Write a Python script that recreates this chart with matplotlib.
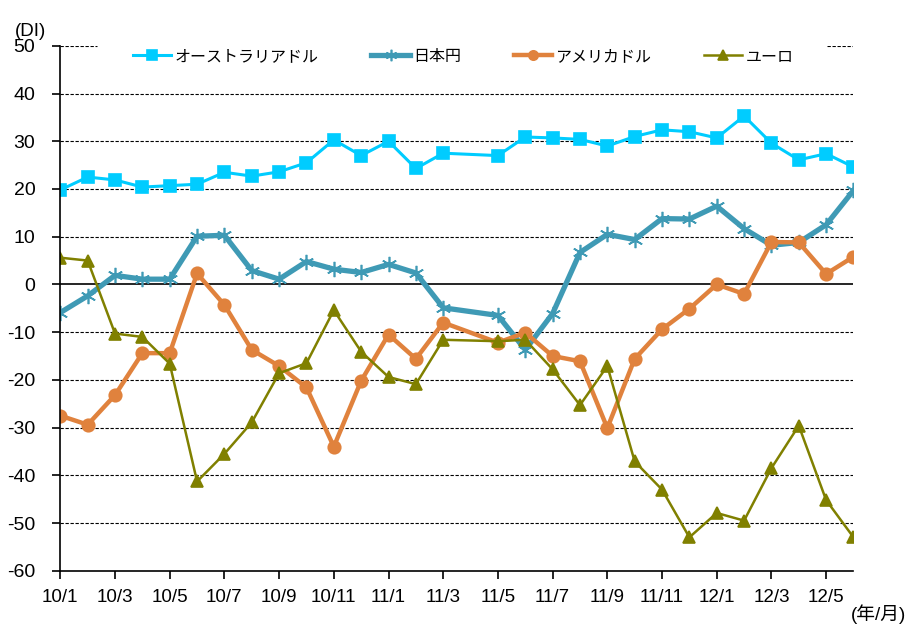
import numpy as np
import pandas as pd
import matplotlib
matplotlib.use('Agg')
import matplotlib.pyplot as plt

plt.rcParams['font.family'] = ['Liberation Sans', 'Noto Sans CJK JP', 'DejaVu Sans']
plt.rcParams['axes.unicode_minus'] = False

# months 10/1 .. 12/6 (11/4 has no survey value)
months = ['10/1', '10/2', '10/3', '10/4', '10/5', '10/6', '10/7', '10/8', '10/9', '10/10',
          '10/11', '10/12', '11/1', '11/2', '11/3', '11/4', '11/5', '11/6', '11/7', '11/8',
          '11/9', '11/10', '11/11', '11/12', '12/1', '12/2', '12/3', '12/4', '12/5', '12/6']

aud = [19.8, 22.5, 21.9, 20.4, 20.7, 21.0, 23.5, 22.7, 23.6, 25.5,
       30.3, 27.0, 30.0, 24.3, 27.5, None, 27.0, 30.9, 30.7, 30.4,
       29.0, 31.0, 32.4, 32.0, 30.7, 35.3, 29.6, 26.1, 27.4, 24.6]
jpy = [-5.9, -2.4, 1.9, 1.1, 1.1, 10.1, 10.3, 2.9, 1.1, 4.8,
       3.2, 2.5, 4.2, 2.4, -4.9, None, -6.5, -13.7, -6.1, 6.7,
       10.5, 9.4, 13.8, 13.7, 16.4, 11.7, 8.2, 8.8, 12.5, 19.7]
usd = [-27.5, -29.4, -23.2, -14.4, -14.4, 2.3, -4.3, -13.7, -17.1, -21.6,
       -34.0, -20.2, -10.5, -15.6, -8.0, None, -12.2, -10.1, -15.0, -16.1,
       -30.1, -15.6, -9.4, -5.1, 0.0, -2.0, 8.9, 8.8, 2.2, 5.8]
eur = [5.6, 5.0, -10.3, -11.0, -16.6, -41.3, -35.5, -28.9, -18.6, -16.5,
       -5.4, -14.1, -19.4, -20.9, -11.6, None, -11.9, -11.6, -17.8, -25.3,
       -17.1, -37.1, -43.0, -53.0, -47.9, -49.5, -38.5, -29.6, -45.2, -53.0]

series = [
    ('オーストラリアドル', aud, '#00CCFF', 2.2, 's', 9),
    ('日本円', jpy, '#3F9AB5', 3.8, (6, 2, 0), 11),
    ('アメリカドル', usd, '#E0823D', 3.2, 'o', 9),
    ('ユーロ', eur, '#808000', 1.8, '^', 9),
]

fig = plt.figure(figsize=(9.07, 6.28), dpi=100)
ax = fig.add_axes([0.0665, 0.0912, 0.8745, 0.8358])

x = np.arange(len(months))
for name, vals, col, lw, mk, ms in series:
    s = pd.Series(vals, index=x, dtype=float).dropna()
    ax.plot(s.index, s.values, color=col, lw=lw, marker=mk, ms=ms,
            mec=col, mfc=col, mew=1.2, label=name)

ax.set_ylim(-60, 50)
ax.set_xlim(0, len(months) - 1)
ax.set_yticks(range(-60, 51, 10))
ax.set_xticks(x[::2])
ax.set_xticklabels(months[::2])

grid_kw = dict(color='black', lw=0.8, ls=(0, (3, 1.5)), zorder=1)
for v in range(-50, 41, 10):
    if v == 0:
        ax.axhline(0, color='black', lw=1.2, zorder=1)
    else:
        ax.axhline(v, **grid_kw)
# top gridline is hidden behind the legend in the middle
ax.axhline(50, xmin=0, xmax=0.046, **grid_kw)
ax.axhline(50, xmin=0.967, xmax=1, **grid_kw)

for sp in ['top', 'right']:
    ax.spines[sp].set_visible(False)
for sp in ['left', 'bottom']:
    ax.spines[sp].set_linewidth(1.2)
ax.tick_params(axis='y', direction='out', length=6, width=1.2, labelsize=14, pad=12)
ax.tick_params(axis='x', direction='out', length=6, width=1.2, labelsize=13.5, pad=7)

leg = ax.legend(loc='center', bbox_to_anchor=(0.508, 0.98), ncol=4, fontsize=11.5,
                frameon=False, handlelength=2.4, handletextpad=0.2, columnspacing=3.3,
                markerscale=0.75, borderaxespad=0)
leg.set_zorder(5)

fig.text(0.016, 0.943, '(DI)', fontsize=13.5, va='baseline', ha='left')
fig.text(0.999, 0.012, '(年/月)', fontsize=13.5, va='baseline', ha='right')

fig.savefig('out.png', dpi=100)
